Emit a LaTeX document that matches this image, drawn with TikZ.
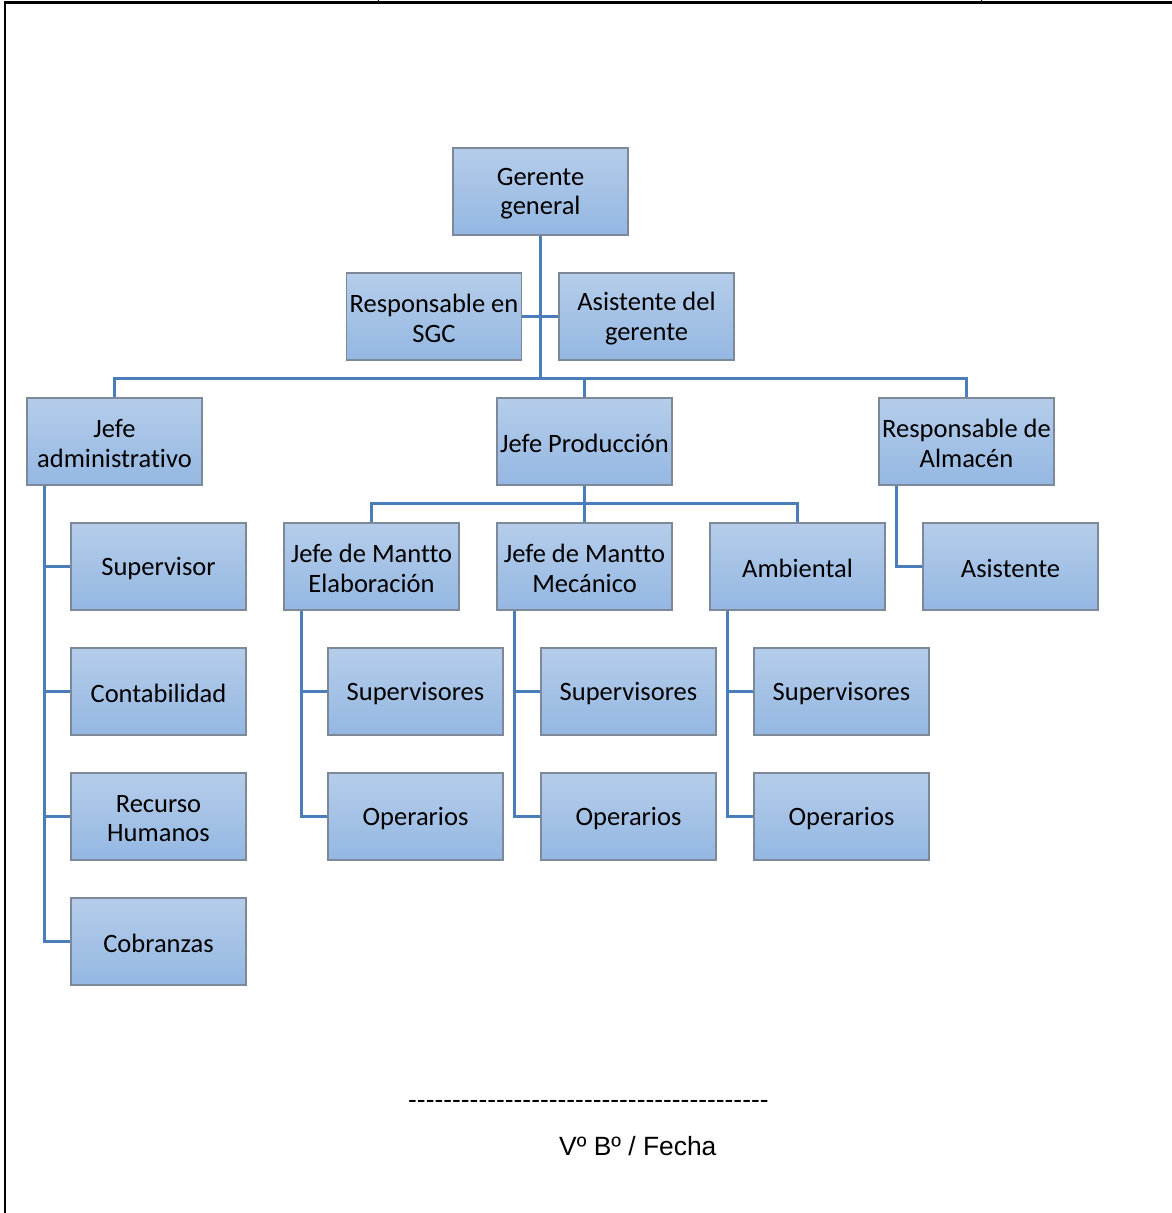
\documentclass[tikz,border=0pt]{standalone}
\usepackage{fontspec}
\setmainfont{Carlito}[Ligatures={NoCommon}]
\newfontfamily\arialf{Liberation Sans}
\usetikzlibrary{positioning}
\definecolor{boxtop}{RGB}{181,205,234}
\definecolor{boxbot}{RGB}{148,183,226}
\definecolor{boxedge}{RGB}{125,137,152}
\definecolor{conncol}{RGB}{74,126,187}
\newcommand\dnline[1]{\raisebox{-2pt}[\height][\depth]{#1}}
\tikzset{
  orgbox/.style={draw=boxedge, line width=1.3pt, top color=boxtop, bottom color=boxbot,
    minimum width=175pt, minimum height=87pt, inner sep=1pt, align=center,
    font=\fontsize{26.5}{29.5}\selectfont},
  conn/.style={draw=conncol, line width=3pt},
  frameline/.style={draw=black, line width=2.8pt}
}
\begin{document}
\begin{tikzpicture}[x=1pt,y=-1pt]
\useasboundingbox (0,0) rectangle (1172,1213);
% page frame
\draw[frameline] (4,2.5) -- (1172,2.5);
\draw[frameline] (5,1.5) -- (5,1213);
\draw[black, line width=1pt] (378,0) -- (378,3);
\draw[black, line width=1pt] (981,0) -- (981,3);
% boxes
\node[orgbox] (g) at (540.5,191.5) {\dnline{Gerente}\\\dnline{general}};
\node[orgbox] (sgc) at (434,316.5) {\dnline{Responsable en}\\\dnline{SGC}};
\node[orgbox] (asg) at (646.5,316.5) {\dnline{Asistente del}\\\dnline{gerente}};
\node[orgbox] (ja) at (114.5,441.5) {\dnline{Jefe}\\\dnline{administrativo}};
\node[orgbox] (jp) at (584.5,441.5) {\dnline{Jefe Producción}};
\node[orgbox] (ra) at (966.5,441.5) {\dnline{Responsable de}\\\dnline{Almacén}};
\node[orgbox] (sup) at (158.5,566.5) {\dnline{Supervisor}};
\node[orgbox] (cont) at (158.5,691.5) {\dnline{Contabilidad}};
\node[orgbox] (rh) at (158.5,816.5) {\dnline{Recurso}\\\dnline{Humanos}};
\node[orgbox] (cob) at (158.5,941.5) {\dnline{Cobranzas}};
\node[orgbox] (je) at (371.5,566.5) {\dnline{Jefe de Mantto}\\\dnline{Elaboración}};
\node[orgbox] (jm) at (584.5,566.5) {\dnline{Jefe de Mantto}\\\dnline{Mecánico}};
\node[orgbox] (amb) at (797.5,566.5) {\dnline{Ambiental}};
\node[orgbox] (asis) at (1010.5,566.5) {\dnline{Asistente}};
\node[orgbox] (s1) at (415.5,691.5) {\dnline{Supervisores}};
\node[orgbox] (o1) at (415.5,816.5) {\dnline{Operarios}};
\node[orgbox] (s2) at (628.5,691.5) {\dnline{Supervisores}};
\node[orgbox] (o2) at (628.5,816.5) {\dnline{Operarios}};
\node[orgbox] (s3) at (841.5,691.5) {\dnline{Supervisores}};
\node[orgbox] (o3) at (841.5,816.5) {\dnline{Operarios}};
% connectors
\draw[conn] (g.south) -- ([yshift=-144pt]g.south);
\draw[conn] (sgc.east) -- (asg.west);
\draw[conn] (ja.north) |- ([yshift=19pt]jp.north) -| (ra.north);
\draw[conn] (jp.north) -- ([yshift=19pt]jp.north);
\draw[conn] (jp.south) -- (jm.north);
\draw[conn] (je.north) |- ([yshift=19pt]jm.north) -| (amb.north);
\foreach \c in {sup,cont,rh,cob} {\draw[conn] ([xshift=18pt]ja.south west) |- (\c.west);}
\foreach \p/\a/\b in {je/s1/o1, jm/s2/o2, amb/s3/o3} {
  \draw[conn] ([xshift=18pt]\p.south west) |- (\a.west);
  \draw[conn] ([xshift=18pt]\p.south west) |- (\b.west);
}
\draw[conn] ([xshift=18pt]ra.south west) |- (asis.west);
% footer
\node[font=\arialf\fontsize{26.4}{30}\selectfont, inner sep=0pt, anchor=west] (dash) at (408,1104) {-----------------------------------------};
\node[font=\arialf\fontsize{26.4}{30}\selectfont, inner sep=0pt, anchor=base west] (vb) at (559,1155) {Vº Bº / Fecha};
\end{tikzpicture}
\end{document}
